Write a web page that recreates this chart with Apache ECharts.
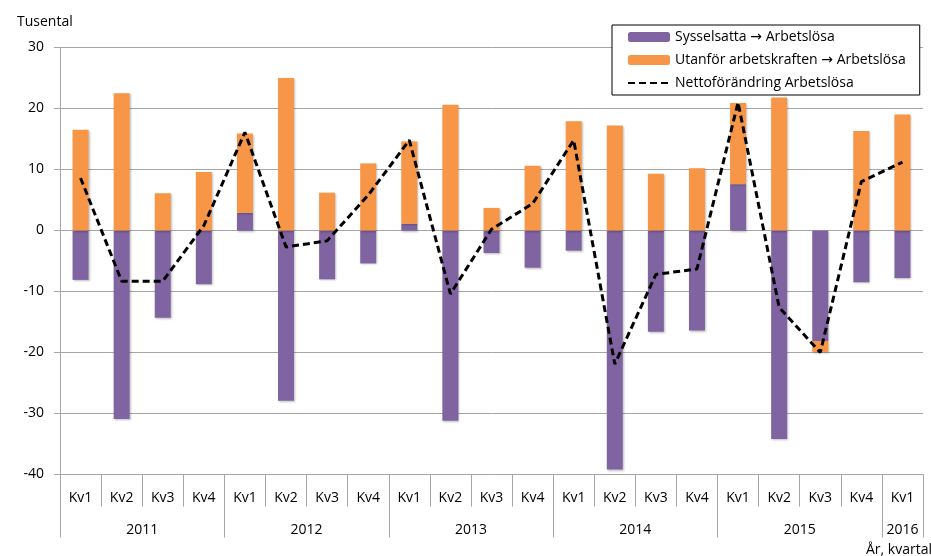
<!DOCTYPE html>
<html>
<head>
<meta charset="utf-8">
<script src="https://cdn.jsdelivr.net/npm/echarts@6/dist/echarts.min.js"></script>
<style>
html,body{margin:0;padding:0;background:#fff;}
#chart{width:931px;height:556px;}
</style>
</head>
<body>
<div id="chart"></div>
<script>
// ---- data ----
const quarters = ['Kv1','Kv2','Kv3','Kv4','Kv1','Kv2','Kv3','Kv4','Kv1','Kv2','Kv3','Kv4','Kv1','Kv2','Kv3','Kv4','Kv1','Kv2','Kv3','Kv4','Kv1'];
const years = ['2011','2012','2013','2014','2015','2016'];
const quartersPerYear = [4,4,4,4,4,1];
const sysselsatta = [-8.1,-30.9,-14.3,-8.8,2.9,-27.9,-8.0,-5.4,1.1,-31.2,-3.7,-6.1,-3.3,-39.2,-16.6,-16.4,7.6,-34.2,-18.1,-8.5,-7.8];
const utanfor = [16.5,22.5,6.1,9.6,13.0,25.0,6.2,11.0,13.5,20.6,3.7,10.6,17.9,17.2,9.3,10.2,13.3,21.8,-1.8,16.3,19.0];
const netto = [8.6,-8.3,-8.3,0.8,16.1,-2.7,-1.7,5.8,14.8,-10.4,0.2,4.4,14.8,-21.9,-7.2,-6.3,21.0,-12.6,-20.0,8.0,11.2];
const yTicks = {min:-40, max:30, interval:10};
const seriesNames = ['Sysselsatta \u2192 Arbetslösa','Utanför arbetskraften \u2192 Arbetslösa','Nettoförändring Arbetslösa'];

// year boundaries and centers (derived from counts)
const yearBounds = [0];
const yearCenters = [];
quartersPerYear.forEach(function(n){
  const s = yearBounds[yearBounds.length-1];
  yearCenters.push(s + n/2);
  yearBounds.push(s + n);
});

const FONT = 'Open Sans';
const GRAY = '#a6a6a6';
const chart = echarts.init(document.getElementById('chart'), null, {renderer:'canvas'});
const barShadow = {shadowColor:'rgba(0,0,0,0.25)', shadowBlur:2, shadowOffsetX:1, shadowOffsetY:1};

chart.setOption({
  animation:false,
  textStyle:{fontFamily:FONT, color:'#000'},
  title:[
    {text:'Tusental', left:12, top:10, textStyle:{fontFamily:FONT, fontSize:14, fontWeight:'normal', color:'#000'}},
    {text:'År, kvartal', left:861, top:538, textStyle:{fontFamily:FONT, fontSize:14, fontWeight:'normal', color:'#000'}}
  ],
  legend:{
    orient:'vertical', left:612, top:25,
    padding:[5,14,5,15],
    backgroundColor:'#fff', borderColor:'#000', borderWidth:1,
    itemWidth:42, itemHeight:10, itemGap:9,
    textStyle:{fontFamily:FONT, fontSize:14, color:'#000',
      rich:{a:{fontFamily:'DejaVu Sans', fontSize:14, color:'#000'}}},
    formatter:function(name){ return name.replace('\u2192','{a|\u2192}'); },
    data:[
      {name:seriesNames[0]},
      {name:seriesNames[1]},
      {name:seriesNames[2], itemStyle:{opacity:0}}
    ]
  },
  grid:{left:60, right:8, top:47.5, bottom:81.5, containLabel:false},
  xAxis:[
    {
      type:'category', data:quarters, position:'bottom',
      axisLine:{show:true, onZero:false, lineStyle:{color:GRAY, width:1}},
      axisTick:{show:true, length:32, lineStyle:{color:GRAY}},
      axisLabel:{fontFamily:FONT, fontSize:14, color:'#000', margin:17},
      splitLine:{show:false}
    },
    {
      type:'value', min:0, max:quarters.length, position:'bottom',
      axisLine:{show:false, onZero:false},
      axisTick:{show:true, length:63, customValues:yearBounds, lineStyle:{color:GRAY}},
      axisLabel:{show:true, customValues:yearCenters, fontFamily:FONT, fontSize:14, color:'#000', margin:49,
        formatter:function(v){ const i = yearCenters.indexOf(v); return i>=0 ? years[i] : ''; }},
      splitLine:{show:false}
    }
  ],
  yAxis:{
    type:'value', min:yTicks.min, max:yTicks.max, interval:yTicks.interval,
    axisLine:{show:true, lineStyle:{color:GRAY}},
    axisTick:{show:true, length:6, lineStyle:{color:GRAY}},
    axisLabel:{fontFamily:FONT, fontSize:14, color:'#000', margin:16},
    splitLine:{show:true, lineStyle:{color:GRAY, width:1}}
  },
  series:[
    {name:seriesNames[0], type:'bar', stack:'s', data:sysselsatta, barWidth:16,
      itemStyle:Object.assign({color:'#8064a2'}, barShadow)},
    {name:seriesNames[1], type:'bar', stack:'s', data:utanfor, barWidth:16,
      itemStyle:Object.assign({color:'#f79646'}, barShadow)},
    {name:seriesNames[2], type:'line', data:netto, symbol:'none', z:5,
      lineStyle:{color:'#000', width:3, type:[7,4]}, itemStyle:{color:'#000'}}
  ]
});
</script>
</body>
</html>
